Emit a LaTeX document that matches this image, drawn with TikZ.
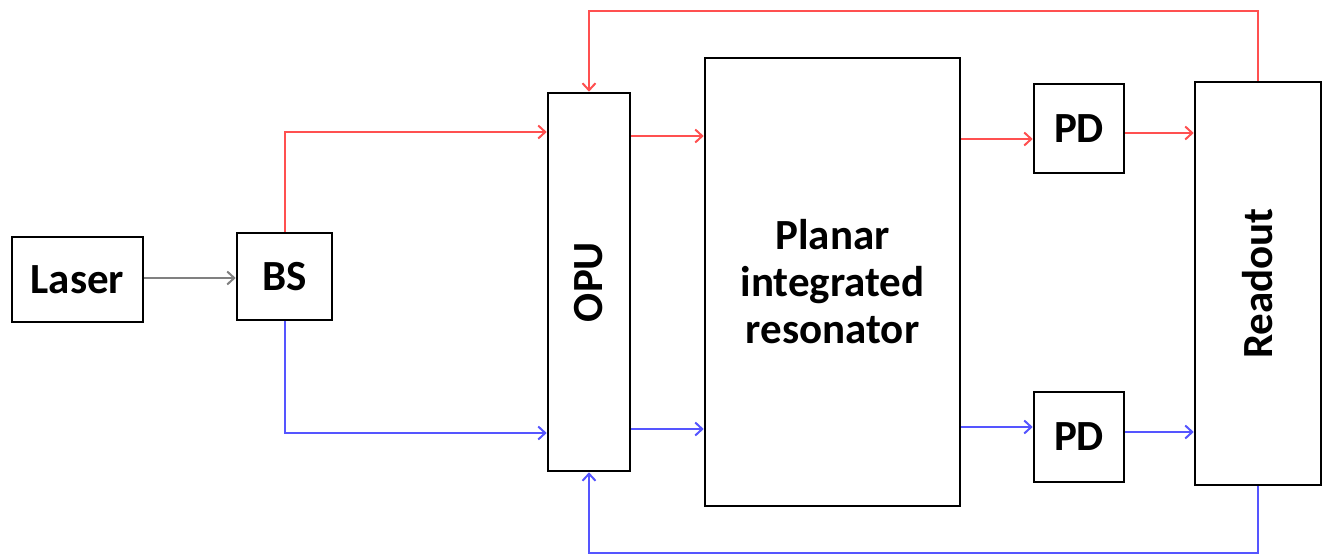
\documentclass[tikz,border=0pt]{standalone}
\usepackage{fontspec}
\setmainfont{Carlito}
\usetikzlibrary{arrows.meta}
\definecolor{sigred}{RGB}{255,80,80}
\definecolor{sigblue}{RGB}{85,85,255}
\begin{document}
\begin{tikzpicture}[x=1pt,y=-1pt,>={Straight Barb[length=7pt,width=13pt]},
  box/.style={draw,line width=2.6pt,inner sep=0pt,font=\fontsize{43}{47}\selectfont\bfseries},
  redline/.style={draw=sigred,line width=2pt,->},
  blueline/.style={draw=sigblue,line width=2pt,->}]
\useasboundingbox (0,0) rectangle (1325,556);

\node[box,minimum width=131pt,minimum height=85pt] (laser) at (77.5,279.5) {Laser};
\node[box,minimum width=95pt,minimum height=87pt] (bs) at (284.5,276.5) {BS};
\node[box,minimum width=82pt,minimum height=378pt] (opu) at (589,282) {};
\node[rotate=90,font=\fontsize{43}{47}\selectfont\bfseries] at (opu) {OPU};
\node[box,minimum width=255pt,minimum height=448pt,align=center] (planar) at (832.5,282)
  {Planar\\integrated\\resonator};
\node[box,minimum width=90pt,minimum height=89pt] (pdtop) at (1079,128.5) {PD};
\node[box,minimum width=90pt,minimum height=90pt] (pdbot) at (1079,437) {PD};
\node[box,minimum width=126pt,minimum height=403pt] (readout) at (1258,283.5) {};
\node[rotate=90,font=\fontsize{43}{47}\selectfont\bfseries] at (readout) {Readout};

\draw[gray,line width=2pt,->] (laser.east |- 0,278) -- (bs.west |- 0,278);

\draw[redline] (bs.north) |- (opu.west |- 0,132);
\draw[redline] (opu.east |- 0,136) -- (planar.west |- 0,136);
\draw[redline] (planar.east |- 0,139) -- (pdtop.west |- 0,139);
\draw[redline] (pdtop.east |- 0,133) -- (readout.west |- 0,133);
\draw[redline] (readout.north) -- (readout.north |- 0,11) -| (opu.north);

\draw[blueline] (bs.south) |- (opu.west |- 0,433);
\draw[blueline] (opu.east |- 0,429) -- (planar.west |- 0,429);
\draw[blueline] (planar.east |- 0,427) -- (pdbot.west |- 0,427);
\draw[blueline] (pdbot.east |- 0,432) -- (readout.west |- 0,432);
\draw[blueline] (readout.south) -- (readout.south |- 0,553) -| (opu.south);
\end{tikzpicture}
\end{document}
